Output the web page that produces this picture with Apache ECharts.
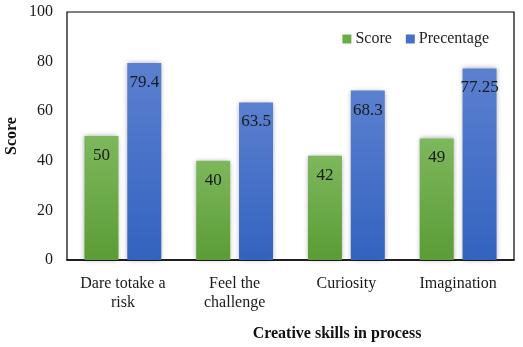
<!DOCTYPE html>
<html>
<head>
<meta charset="utf-8">
<script src="https://cdn.jsdelivr.net/npm/echarts@6/dist/echarts.min.js"></script>
<style>
  html, body { margin: 0; padding: 0; background: #fff; }
  #chart { width: 523px; height: 347px; }
</style>
</head>
<body>
<div id="chart"></div>
<script>
// Creative skills and their score / percentage values
const categories = ['Dare totake a\nrisk', 'Feel the\nchallenge', 'Curiosity', 'Imagination'];
const scoreValues = [50, 40, 42, 49];
const percentValues = [79.4, 63.5, 68.3, 77.25];
const yTicks = [0, 20, 40, 60, 80, 100];

const FONT = '"Liberation Serif", "DejaVu Serif", serif';

function grad(top, bottom) {
  return new echarts.graphic.LinearGradient(0, 0, 0, 1, [
    { offset: 0, color: top },
    { offset: 1, color: bottom }
  ]);
}

const chart = echarts.init(document.getElementById('chart'), null, { renderer: 'canvas' });

const barLabel = {
  show: true,
  position: 'insideTop',
  distance: 11,
  color: '#1a1a1a',
  fontFamily: FONT,
  fontSize: 17
};

chart.setOption({
  animation: false,
  textStyle: { fontFamily: FONT },
  grid: {
    left: 67, right: 9, top: 12, bottom: 87,
    outerBoundsMode: 'none',
    show: true, borderColor: '#000', borderWidth: 1.2, backgroundColor: 'transparent'
  },
  title: {
    text: 'Creative skills in process',
    left: 332, top: 321,
    textAlign: 'center',
    textStyle: { fontFamily: FONT, fontSize: 16, fontWeight: 'bold', color: '#111' }
  },
  legend: {
    right: 29, top: 26,
    itemWidth: 9, itemHeight: 9, itemGap: 14,
    icon: 'rect',
    textStyle: { fontFamily: FONT, fontSize: 16, color: '#222', padding: [0, 0, 0, -1] },
    data: [
      { name: 'Score', itemStyle: { color: '#6aad47' } },
      { name: 'Precentage', itemStyle: { color: '#4470c8' } }
    ]
  },
  xAxis: {
    type: 'category',
    data: categories,
    axisLine: { show: true, lineStyle: { color: '#000', width: 1.5 } },
    axisTick: { show: false },
    axisLabel: {
      fontFamily: FONT, fontSize: 16, color: '#1a1a1a',
      margin: 14, lineHeight: 19, interval: 0
    }
  },
  yAxis: {
    type: 'value',
    min: yTicks[0], max: yTicks[yTicks.length - 1], interval: 20,
    name: 'Score',
    nameLocation: 'middle',
    nameGap: 47,
    nameMoveOverlap: false,
    nameTextStyle: { fontFamily: FONT, fontSize: 16, fontWeight: 'bold', color: '#111' },
    axisLine: { show: false },
    axisTick: { show: false },
    splitLine: { show: false },
    axisLabel: { fontFamily: FONT, fontSize: 16, color: '#1a1a1a', margin: 14 }
  },
  series: [
    {
      name: 'Score',
      type: 'bar',
      data: scoreValues,
      barWidth: 34,
      barGap: '26%',
      itemStyle: {
        color: grad('#7db85c', '#5b9c36'),
        shadowColor: 'rgba(0,0,0,0.35)', shadowBlur: 5, shadowOffsetX: 0, shadowOffsetY: 0
      },
      label: barLabel
    },
    {
      name: 'Precentage',
      type: 'bar',
      data: percentValues,
      barWidth: 34,
      itemStyle: {
        color: grad('#5b80d0', '#3363bf'),
        shadowColor: 'rgba(0,0,0,0.35)', shadowBlur: 5, shadowOffsetX: 0, shadowOffsetY: 0
      },
      label: barLabel
    }
  ]
});
</script>
</body>
</html>
